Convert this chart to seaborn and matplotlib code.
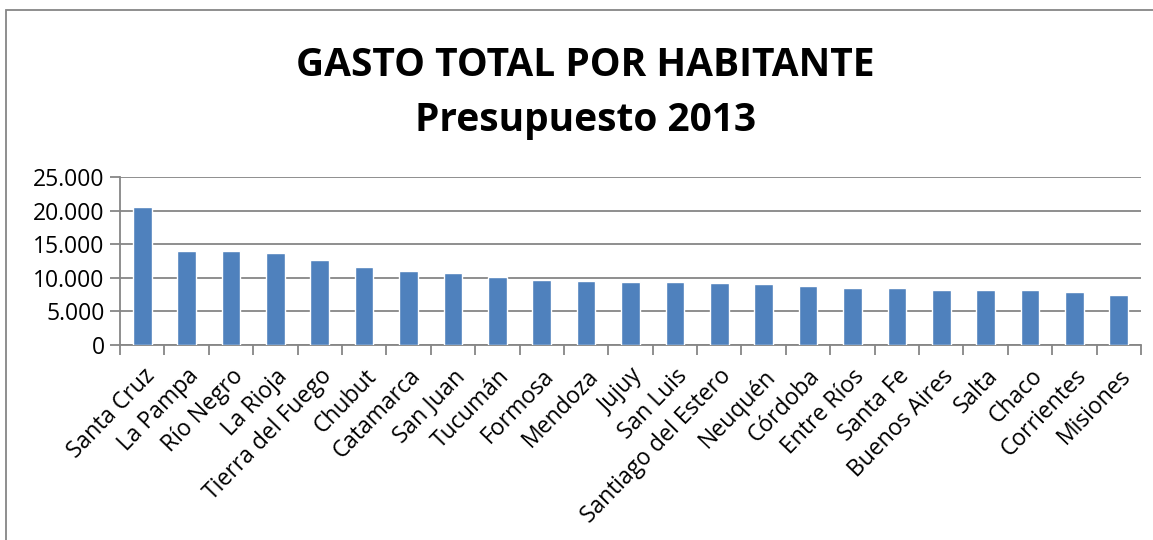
import numpy as np
import pandas as pd
import matplotlib
matplotlib.use("Agg")
import matplotlib.pyplot as plt
import seaborn as sns
from matplotlib.ticker import FuncFormatter, FixedLocator
from matplotlib.patches import Rectangle

provincias = ["Santa Cruz", "La Pampa", "Río Negro", "La Rioja", "Tierra del Fuego",
              "Chubut", "Catamarca", "San Juan", "Tucumán", "Formosa", "Mendoza",
              "Jujuy", "San Luis", "Santiago del Estero", "Neuquén", "Córdoba",
              "Entre Ríos", "Santa Fe", "Buenos Aires", "Salta", "Chaco",
              "Corrientes", "Misiones"]
gasto = [20500, 13960, 13950, 13760, 12620, 11580, 10990, 10690, 10050, 9650, 9530,
         9360, 9310, 9160, 9010, 8710, 8470, 8420, 8220, 8170, 8120, 7820, 7380]

df = pd.DataFrame({"provincia": provincias, "gasto": gasto})

sns.set_style("white")
plt.rcParams["font.family"] = ["Open Sans", "DejaVu Sans"]
plt.rcParams["text.color"] = "black"

fig = plt.figure(figsize=(11.53, 5.40), dpi=100)
ax = fig.add_axes([120 / 1153, 1 - 345 / 540, (1141 - 120) / 1153, (345 - 177) / 540])

sns.barplot(data=df, x="provincia", y="gasto", color="#4F81BD", width=0.42,
            saturation=1, ax=ax, zorder=3)

grid = "#868686"
ax.set_ylim(0, 25000)
ax.set_yticks(range(0, 25001, 5000))
ax.yaxis.set_major_formatter(FuncFormatter(lambda v, p: f"{int(v):,}".replace(",", ".")))
ax.grid(axis="y", color=grid, linewidth=1.3, zorder=0)
ax.set_xlim(-0.5, len(provincias) - 0.5)

for s in ["top", "right"]:
    ax.spines[s].set_visible(False)
for s in ["left", "bottom"]:
    ax.spines[s].set_color(grid)
    ax.spines[s].set_linewidth(1.3)

ax.tick_params(axis="y", direction="out", length=7, width=1.3, color=grid,
               labelsize=16.5, labelcolor="black", left=True, pad=4)
ax.tick_params(axis="x", which="major", length=0, labelsize=16.5, labelcolor="black", pad=14)
ax.xaxis.set_minor_locator(FixedLocator(np.arange(-0.5, len(provincias), 1)))
ax.tick_params(axis="x", which="minor", direction="out", length=7, width=1.3,
               color=grid, bottom=True)
plt.setp(ax.get_xticklabels(), rotation=46, ha="right", rotation_mode="anchor")
ax.set_xlabel("")
ax.set_ylabel("")

fig.text(0.508, 1 - 65 / 540, "GASTO TOTAL POR HABITANTE", ha="center", va="center",
         fontsize=28, fontweight="bold", color="black")
fig.text(0.508, 1 - 120 / 540, "Presupuesto 2013", ha="center", va="center",
         fontsize=28, fontweight="bold", color="black")

fig.patches.append(Rectangle((6 / 1153, -0.05), 1.2, 1 - 10 / 540 + 0.05,
                             transform=fig.transFigure, fill=False,
                             edgecolor=grid, linewidth=1.3))

fig.savefig("out.png", dpi=100)
